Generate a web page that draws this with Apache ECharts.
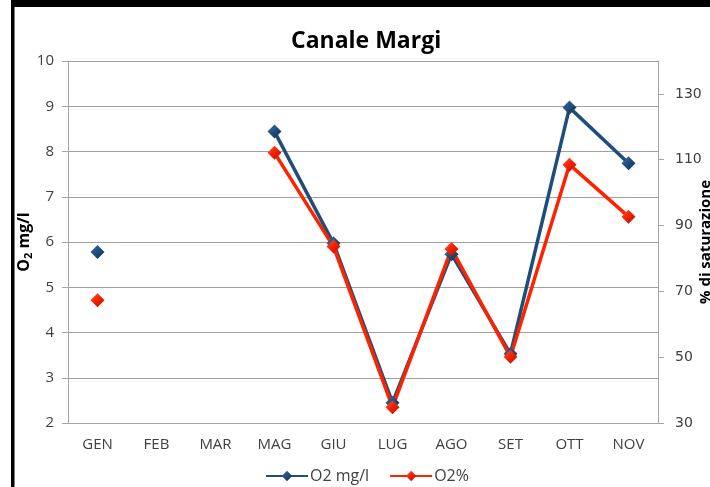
<!DOCTYPE html>
<html>
<head>
<meta charset="utf-8">
<script src="https://cdn.jsdelivr.net/npm/echarts@6/dist/echarts.min.js"></script>
<style>
  html, body { margin: 0; padding: 0; background: #fff; }
  #chart { width: 710px; height: 487px; }
</style>
</head>
<body>
<div id="chart"></div>
<script>
const months = ['GEN', 'FEB', 'MAR', 'MAG', 'GIU', 'LUG', 'AGO', 'SET', 'OTT', 'NOV']
// O2 mg/l (asse sinistro)
const o2mg = [5.78, null, null, 8.44, 5.97, 2.45, 5.73, 3.53, 8.97, 7.74]
// O2 % di saturazione (asse destro)
const o2perc = [67.3, null, null, 112.1, 83.6, 34.8, 82.9, 50.1, 108.5, 92.7]
const rightTicks = [30, 50, 70, 90, 110, 130]

const chart = echarts.init(document.getElementById('chart'))

const labelFont = { fontFamily: 'Open Sans', fontSize: 15, color: '#404040' }

chart.setOption({
  animation: false,
  backgroundColor: '#fff',
  title: {
    text: 'Canale Margi',
    left: 291,
    top: 30,
    padding: 0,
    textStyle: { fontFamily: 'Open Sans', fontSize: 23, fontWeight: 'bold', color: '#000' }
  },
  legend: {
    bottom: 3,
    left: 265,
    padding: 0,
    itemWidth: 42,
    itemHeight: 13,
    itemGap: 20,
    textStyle: { fontFamily: 'Open Sans', fontSize: 16, color: '#404040', padding: [0, 0, 0, -3] },
    data: ['O2 mg/l', 'O2%']
  },
  grid: { left: 68, right: 52, top: 61, bottom: 64, outerBoundsMode: 'none' },
  xAxis: {
    type: 'category',
    data: months,
    boundaryGap: true,
    axisLine: { lineStyle: { color: '#A6A6A6', width: 1 } },
    axisTick: { length: 6, lineStyle: { color: '#A6A6A6' } },
    axisLabel: { ...labelFont, margin: 14 }
  },
  yAxis: [
    {
      type: 'value',
      min: 2,
      max: 10,
      interval: 1,
      name: '{a|O}{s|2}{a| mg/l}',
      nameLocation: 'middle',
      nameGap: 34,
      nameMoveOverlap: false,
      nameTextStyle: {
        rich: {
          a: { fontFamily: 'Open Sans', fontSize: 16, fontWeight: 'bold', color: '#000' },
          s: { fontFamily: 'Open Sans', fontSize: 11, fontWeight: 'bold', color: '#000', verticalAlign: 'bottom', padding: [8, 0, 0, 0] }
        }
      },
      axisLine: { show: true, lineStyle: { color: '#A6A6A6' } },
      axisTick: { show: true, length: 6, lineStyle: { color: '#A6A6A6' } },
      axisLabel: { ...labelFont, margin: 14 },
      splitLine: { lineStyle: { color: '#A0A0A0', width: 1 } }
    },
    {
      type: 'value',
      min: 30,
      max: 140,
      position: 'right',
      name: '% di saturazione',
      nameLocation: 'middle',
      nameGap: 40,
      nameMoveOverlap: false,
      nameTextStyle: { fontFamily: 'Open Sans', fontSize: 15, fontWeight: 'bold', color: '#000' },
      axisLine: { show: true, lineStyle: { color: '#A6A6A6' } },
      axisTick: { show: true, length: 6, lineStyle: { color: '#A6A6A6' }, customValues: rightTicks },
      axisLabel: { fontFamily: 'DejaVu Sans', fontSize: 14, color: '#404040', margin: 17, customValues: rightTicks },
      splitLine: { show: false }
    }
  ],
  series: [
    {
      name: 'O2 mg/l',
      type: 'line',
      yAxisIndex: 0,
      data: o2mg,
      connectNulls: false,
      symbol: 'diamond',
      symbolSize: 14,
      lineStyle: { color: '#1F4E7A', width: 3.5 },
      itemStyle: {
        color: new echarts.graphic.LinearGradient(0, 0, 1, 1, [
          { offset: 0, color: '#3A6EA5' },
          { offset: 0.5, color: '#1F4E7A' },
          { offset: 1, color: '#102E50' }
        ])
      }
    },
    {
      name: 'O2%',
      type: 'line',
      yAxisIndex: 1,
      data: o2perc,
      connectNulls: false,
      symbol: 'diamond',
      symbolSize: 14,
      lineStyle: { color: '#FF2200', width: 3.5 },
      itemStyle: {
        color: new echarts.graphic.LinearGradient(0, 0, 1, 1, [
          { offset: 0, color: '#FF5533' },
          { offset: 0.5, color: '#F02000' },
          { offset: 1, color: '#B81000' }
        ])
      }
    }
  ],
  graphic: [
    { type: 'rect', shape: { x: 11, y: 0, width: 699, height: 7 }, style: { fill: '#000' }, silent: true },
    { type: 'rect', shape: { x: 11, y: 0, width: 3.5, height: 487 }, style: { fill: '#000' }, silent: true }
  ]
})
</script>
</body>
</html>
